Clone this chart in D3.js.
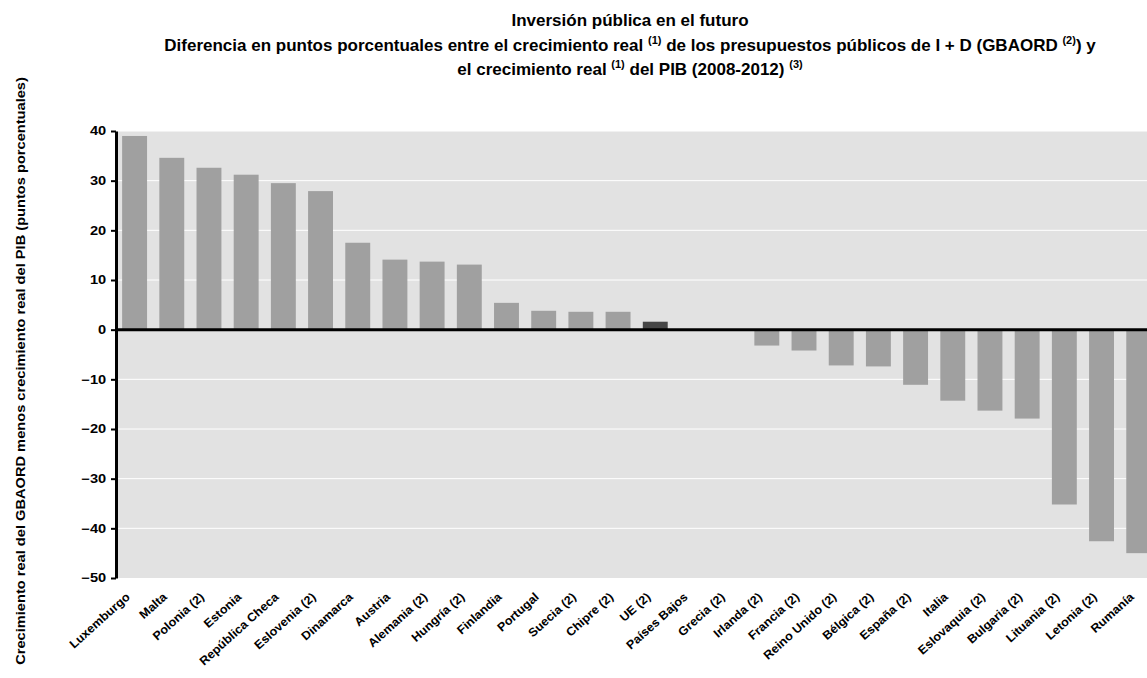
<!DOCTYPE html>
<html>
<head>
<meta charset="utf-8">
<script src="https://cdn.jsdelivr.net/npm/d3@7"></script>
<style>
body { margin: 0; background: #fff; }
svg { font-family: "Liberation Sans", Arial, sans-serif; }
</style>
</head>
<body>
<div id="chart"></div>
<script>
var width = 1147;
var height = 678;

var countries = ["Luxemburgo", "Malta", "Polonia (2)", "Estonia", "República Checa", "Eslovenia (2)",
    "Dinamarca", "Austria", "Alemania (2)", "Hungría (2)", "Finlandia", "Portugal", "Suecia (2)",
    "Chipre (2)", "UE (2)", "Países Bajos", "Grecia (2)", "Irlanda (2)", "Francia (2)",
    "Reino Unido (2)", "Bélgica (2)", "España (2)", "Italia", "Eslovaquia (2)", "Bulgaria (2)",
    "Lituania (2)", "Letonia (2)", "Rumanía"];
var values = [39.0, 34.6, 32.6, 31.2, 29.5, 27.9, 17.5, 14.1, 13.7, 13.1, 5.4, 3.8, 3.6,
    3.6, 1.6, 0, 0, -3.2, -4.2, -7.2, -7.4, -11.1, -14.3, -16.3, -17.9, -35.2, -42.6, -45.0];
var yTicks = [40, 30, 20, 10, 0, -10, -20, -30, -40, -50];

var data = countries.map((c, i) => ({name: c, value: values[i]}));

var plotLeft = 116, plotRight = 1147;
var plotTop = 131, plotBottom = 578;
var stretch = 1.22; // el texto del original sale ensanchado
var labStretch = 1.05;

var svg = d3.select("#chart")
            .append("svg")
            .attr("width", width)
            .attr("height", height);

var x = d3.scaleBand()
            .domain(countries)
            .range([plotLeft, plotLeft + 28 * 37.19])
            .paddingInner(0.33)
            .paddingOuter(0.165);

var y = d3.scaleLinear()
            .domain([-50, 40])
            .range([plotBottom, plotTop]);

// fondo gris
svg.append("rect")
    .attr("x", plotLeft)
    .attr("y", plotTop)
    .attr("width", plotRight - plotLeft)
    .attr("height", plotBottom - plotTop)
    .attr("fill", "#e2e2e2");

// lineas de cuadricula
svg.selectAll(".grid")
    .data(yTicks.filter(d => d !== 0 && d !== -50))
    .enter().append("line")
    .attr("x1", plotLeft)
    .attr("x2", plotRight)
    .attr("y1", d => y(d))
    .attr("y2", d => y(d))
    .attr("stroke", "#fff")
    .attr("stroke-width", 1);

// barras
svg.selectAll(".bar")
    .data(data)
    .enter().append("rect")
    .attr("x", d => x(d.name))
    .attr("width", x.bandwidth())
    .attr("y", d => y(Math.max(0, d.value)))
    .attr("height", d => Math.abs(y(d.value) - y(0)))
    .attr("fill", d => d.name === "UE (2)" ? "#464646" : "#a0a0a0");

// linea del cero
svg.append("line")
    .attr("x1", plotLeft)
    .attr("x2", plotRight)
    .attr("y1", y(0))
    .attr("y2", y(0))
    .attr("stroke", "#000")
    .attr("stroke-width", 3);

// eje y
var yAxis = svg.append("g")
    .attr("transform", "translate(" + plotLeft + ",0)")
    .call(d3.axisLeft(y).tickValues(yTicks).tickSize(5).tickSizeOuter(0).tickPadding(3).tickFormat(d3.format("d")));
yAxis.select(".domain").attr("stroke", "#000").attr("stroke-width", 3);
yAxis.selectAll(".tick line").attr("stroke", "#000").attr("stroke-width", 2);
yAxis.selectAll(".tick text")
    .attr("transform", "scale(" + stretch + ",1)")
    .attr("font-size", 12)
    .attr("font-weight", "bold")
    .attr("fill", "#000");

// etiquetas del eje x
svg.selectAll(".xlab")
    .data(countries)
    .enter().append("text")
    .attr("transform", d => "translate(" + (x(d) + x.bandwidth() / 2 - 4) + "," + 598 + ") rotate(-42) scale(" + labStretch + ",1)")
    .attr("text-anchor", "end")
    .attr("font-size", 12)
    .attr("font-weight", "bold")
    .text(d => d);

// titulo del eje y
svg.append("text")
    .attr("transform", "translate(25,371) rotate(-90) scale(" + stretch + ",1)")
    .attr("text-anchor", "middle")
    .attr("font-size", 12)
    .attr("font-weight", "bold")
    .text("Crecimiento real del GBAORD menos crecimiento real del PIB (puntos porcentuales)");

// titulo
var title = svg.append("g").attr("font-weight", "bold").attr("font-size", 17).attr("text-anchor", "middle");
title.append("text").attr("x", 630).attr("y", 26).text("Inversión pública en el futuro");

var t2 = title.append("text").attr("x", 630).attr("y", 51);
t2.append("tspan").text("Diferencia en puntos porcentuales entre el crecimiento real ");
t2.append("tspan").attr("font-size", 11).attr("dy", -7).text("(1)");
t2.append("tspan").attr("dy", 7).text(" de los presupuestos públicos de I + D (GBAORD ");
t2.append("tspan").attr("font-size", 11).attr("dy", -7).text("(2)");
t2.append("tspan").attr("dy", 7).text(") y");

var t3 = title.append("text").attr("x", 630).attr("y", 75);
t3.append("tspan").text("el crecimiento real ");
t3.append("tspan").attr("font-size", 11).attr("dy", -7).text("(1)");
t3.append("tspan").attr("dy", 7).text(" del PIB (2008-2012) ");
t3.append("tspan").attr("font-size", 11).attr("dy", -7).text("(3)");
</script>
</body>
</html>
